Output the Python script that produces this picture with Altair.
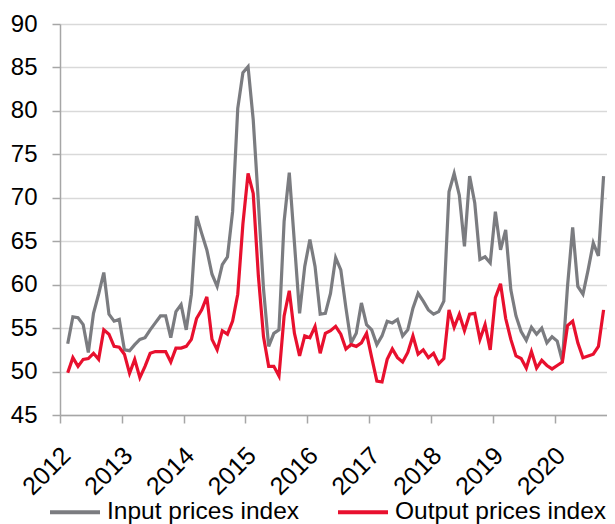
import altair as alt
import pandas as pd

# Monthly series, February 2012 to October 2020
start_year = 2012
start_month = 2

input_prices = [
    53.2, 56.3, 56.2, 55.4, 52.2, 56.7, 58.9, 61.4, 56.6, 55.8, 56.0,
    52.5, 52.4, 53.1, 53.7, 53.9, 54.8, 55.6, 56.4, 56.4, 53.9, 56.9, 57.7, 54.8,
    58.9, 67.9, 65.9, 64.0, 61.2, 59.8, 62.3, 63.2, 68.4, 80.3, 84.4, 85.1,
    79.0, 69.5, 59.5, 52.9, 54.4, 54.8, 67.3, 72.9, 64.8, 56.7, 62.1, 65.2,
    62.1, 56.6, 56.7, 59.0, 63.1, 61.7, 57.3, 53.3, 54.4, 57.9, 55.4, 54.8,
    53.1, 54.1, 55.8, 55.6, 56.0, 54.1, 54.8, 57.3, 59.0, 58.1, 57.1, 56.6,
    56.9, 58.1, 70.7, 72.8, 70.3, 64.4, 72.5, 69.4, 62.9, 63.2, 62.5, 68.4,
    64.0, 66.3, 59.4, 56.4, 54.6, 53.6, 55.1, 54.3, 55.0, 53.3, 54.0, 53.5,
    51.2, 59.8, 66.6, 59.8, 58.9, 61.7, 64.8, 63.3, 72.5,
]

output_prices = [
    49.85, 51.6, 50.6, 51.4, 51.5, 52.1, 51.4, 54.8, 54.3, 52.9, 52.8,
    52.0, 49.8, 51.4, 49.3, 50.6, 52.1, 52.3, 52.3, 52.3, 51.1, 52.7, 52.7,
    52.9, 53.7, 56.1, 57.1, 58.6, 53.7, 52.5, 54.7, 54.3, 55.8, 58.9, 67.0,
    72.8, 70.5, 61.0, 54.0, 50.6, 50.6, 49.5, 56.4, 59.3, 54.4, 51.8, 54.1,
    53.9, 55.2, 52.1, 54.4, 54.7, 55.2, 54.3, 52.6, 53.1, 52.9, 53.3, 54.4,
    51.6, 48.9, 48.8, 51.4, 52.6, 51.6, 51.1, 52.2, 54.1, 52.0, 52.5, 51.6,
    52.1, 50.9, 51.5, 57.1, 55.1, 56.6, 54.7, 56.6, 56.7, 53.7, 55.4, 52.5,
    58.5, 60.1, 56.1, 53.7, 51.8, 51.5, 50.4, 52.3, 50.4, 51.3, 50.7, 50.3,
    50.7, 51.1, 55.3, 55.8, 53.3, 51.6, 51.8, 52.0, 52.9, 57.1,
]

series_names = ["Input prices index", "Output prices index"]
series_colors = ["#7b7c80", "#e8102e"]
year_ticks = [2012, 2013, 2014, 2015, 2016, 2017, 2018, 2019, 2020]
y_ticks = [45, 50, 55, 60, 65, 70, 75, 80, 85, 90]

rows = []
for name, vals in zip(series_names, [input_prices, output_prices]):
    for i, v in enumerate(vals):
        m = (start_month - 1) + i  # months since Jan of start_year
        rows.append({"t": start_year + (m + 0.5) / 12.0, "value": v, "series": name})
df = pd.DataFrame(rows)

FONT = "Liberation Sans"

chart = alt.Chart(df).mark_line(strokeWidth=3.2).encode(
    x=alt.X(
        "t:Q",
        scale=alt.Scale(domain=[2012, 2020.847], nice=False, zero=False),
        axis=alt.Axis(
            values=year_ticks, format="d", title=None, grid=False,
            tickSize=8, tickColor="#a6a6a6", tickWidth=1.5,
            domainColor="#a6a6a6", domainWidth=1.5,
            labelAngle=-45, labelAlign="right", labelBaseline="middle",
            labelPadding=28, labelOffset=6,
            labelFontSize=25, labelFont=FONT, labelColor="black",
        ),
    ),
    y=alt.Y(
        "value:Q",
        scale=alt.Scale(domain=[45, 90], nice=False, zero=False),
        axis=alt.Axis(
            values=y_ticks, format="d", title=None, grid=True,
            gridColor="#d9d9d9", gridWidth=1.5,
            tickSize=8, tickColor="#a6a6a6", tickWidth=1.5,
            domainColor="#a6a6a6", domainWidth=1.5,
            labelPadding=15, labelFontSize=24, labelFont=FONT, labelColor="black",
        ),
    ),
    color=alt.Color(
        "series:N",
        scale=alt.Scale(domain=series_names, range=series_colors),
        legend=alt.Legend(
            orient="none", legendX=-12, legendY=461, direction="horizontal",
            title=None, symbolType="stroke", symbolSize=2500, symbolStrokeWidth=4,
            labelFontSize=24.5, labelFont=FONT, labelColor="black",
            columnPadding=30, labelOffset=5, padding=0, labelLimit=0,
        ),
    ),
    order=alt.Order("t:Q"),
).properties(
    width=547,
    height=391,
    autosize=alt.AutoSizeParams(type="none"),
    padding={"left": 52, "top": 16, "right": 0, "bottom": 109},
).configure_view(stroke=None)

chart.save("out.html", embed_options={"renderer": "svg", "actions": False})
